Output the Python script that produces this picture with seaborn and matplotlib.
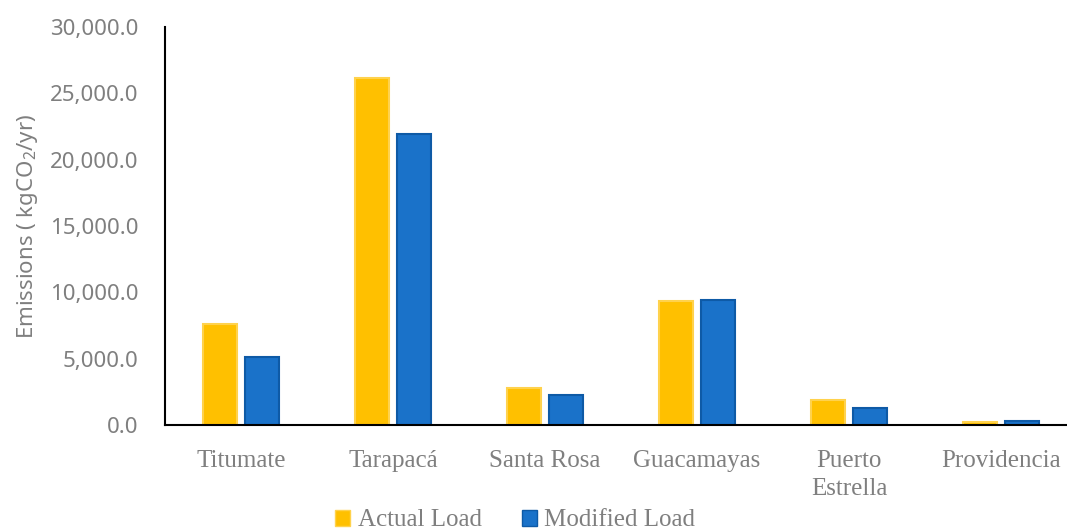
import numpy as np
import pandas as pd
import seaborn as sns
import matplotlib.pyplot as plt
from matplotlib.ticker import FuncFormatter

Locations = ["Titumate", "Tarapacá", "Santa Rosa", "Guacamayas", "Puerto\nEstrella", "Providencia"]
Actual_Load = [7600, 26150, 2790, 9340, 1880, 230]
Modified_Load = [5120, 21930, 2260, 9420, 1270, 280]
Series_Names = ["Actual Load", "Modified Load"]

Data = pd.DataFrame({
    "Location": Locations * 2,
    "Load": [Series_Names[0]] * len(Locations) + [Series_Names[1]] * len(Locations),
    "Emissions": Actual_Load + Modified_Load,
})

sns.set_theme(style="white")
plt.rcParams['font.family'] = ['Noto Sans', 'DejaVu Sans']
plt.rcParams['mathtext.fontset'] = 'custom'
plt.rcParams['mathtext.rm'] = 'Noto Sans'

Gray = "#7F7F7F"
Palette = {"Actual Load": "#FFC000", "Modified Load": "#1A72C9"}
Edges = {"Actual Load": "#FFD24D", "Modified Load": "#0E5AA6"}

fig = plt.figure(figsize=(10.67, 5.30), dpi=100)
ax = fig.add_axes([165/1067, 105/530, (1067-165)/1067, (425-27)/530])

sns.barplot(data=Data, x="Location", y="Emissions", hue="Load", palette=Palette,
            width=0.56, gap=0.2, ax=ax, legend=False, saturation=1)

for Bar, Edge in zip(ax.patches, [Edges["Actual Load"]] * 6 + [Edges["Modified Load"]] * 6):
    Bar.set_edgecolor(Edge)
    Bar.set_linewidth(1.5)

ax.set_ylim(0, 30000)
ax.set_xlim(-0.5, -0.5 + (1067-165)/152)
ax.set_yticks(np.arange(0, 30001, 5000))
ax.yaxis.set_major_formatter(FuncFormatter(lambda v, p: f"{v:,.1f}"))
ax.tick_params(axis='y', labelsize=16, labelcolor=Gray, pad=19, length=0)
ax.tick_params(axis='x', labelsize=18, labelcolor=Gray, pad=18, length=0)
for Label in ax.get_xticklabels():
    Label.set_family('Liberation Serif')
    Label.set_linespacing(1.35)

ax.set_xlabel("")
ax.set_ylabel("Emissions ( kgCO$_2$/yr)", fontsize=16, color=Gray)
ax.yaxis.set_label_coords(-0.139, 0.5)

for Side in ["top", "right"]:
    ax.spines[Side].set_visible(False)
for Side in ["left", "bottom"]:
    ax.spines[Side].set_color("black")
    ax.spines[Side].set_linewidth(1.5)

Handles = [plt.Rectangle((0, 0), 1, 1, facecolor=Palette[n], edgecolor=Edges[n])
           for n in Series_Names]
fig.legend(Handles, Series_Names, loc="center", bbox_to_anchor=(0.483, 0.018),
           ncol=2, frameon=False, handlelength=0.6, handleheight=0.6, handletextpad=0.3,
           columnspacing=1.6, prop={'family': 'Liberation Serif', 'size': 18},
           labelcolor=Gray)

plt.savefig("out.png", dpi=100)
